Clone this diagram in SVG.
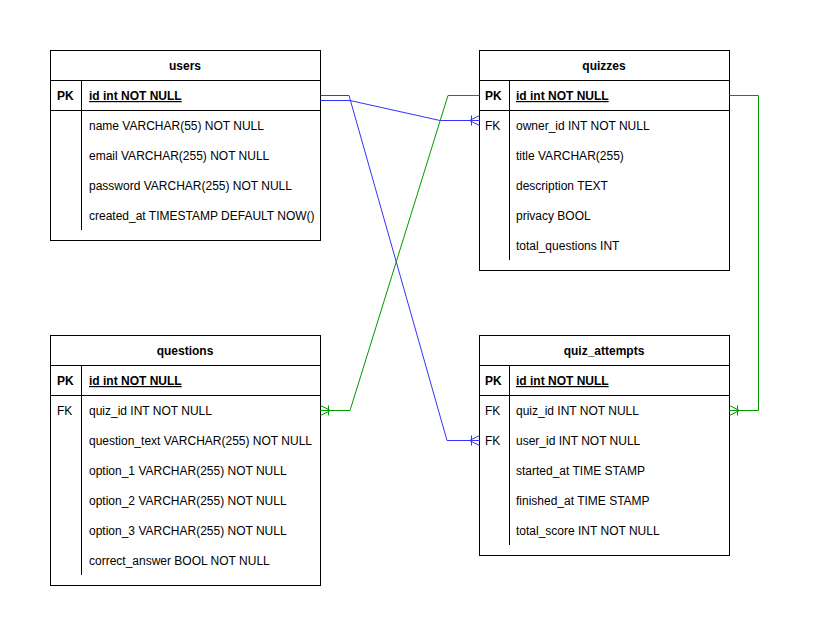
<svg xmlns="http://www.w3.org/2000/svg" width="817" height="636" viewBox="0 0 817 636">
<style>
.box{fill:#fff;stroke:#000;stroke-width:1}
.ln{stroke:#000;stroke-width:1;fill:none}
text{font-family:"Liberation Sans",Arial,sans-serif;font-size:12px;fill:#000}
.t{font-weight:bold;text-anchor:middle}
.k{font-weight:bold}
.pk{font-weight:bold;text-decoration:underline}
.blue{stroke:#3333FF;stroke-width:1;fill:none}
.green{stroke:#009900;stroke-width:1;fill:none}
</style>
<defs>
<marker id="cfB" markerUnits="userSpaceOnUse" viewBox="-12 -6 13 12" refX="0" refY="0" markerWidth="13" markerHeight="12" orient="auto">
<path d="M-10,0 L0,-5 M-10,0 L0,0 M-10,0 L0,5 M-8,-5 L-8,5" stroke="#3333FF" stroke-width="1" fill="none"/>
</marker>
<marker id="cfG" markerUnits="userSpaceOnUse" viewBox="-12 -6 13 12" refX="0" refY="0" markerWidth="13" markerHeight="12" orient="auto">
<path d="M-10,0 L0,-5 M-10,0 L0,0 M-10,0 L0,5 M-8,-5 L-8,5" stroke="#009900" stroke-width="1" fill="none"/>
</marker>
</defs>
<rect width="817" height="636" fill="#fff"/>

<g id="users">
<rect class="box" x="50.5" y="50.5" width="270" height="190"/>
<path class="ln" d="M50.5,80.5H320.5M50.5,110.5H320.5M81.5,80.5V230"/>
<text class="t" x="185" y="70">users</text>
<text class="k" x="57" y="100">PK</text>
<text class="pk" x="89" y="100">id int NOT NULL</text>
<text x="89" y="130">name VARCHAR(55) NOT NULL</text>
<text x="89" y="160">email VARCHAR(255) NOT NULL</text>
<text x="89" y="190">password VARCHAR(255) NOT NULL</text>
<text x="89" y="220">created_at TIMESTAMP DEFAULT NOW()</text>
</g>

<g id="quizzes">
<rect class="box" x="479.5" y="50.5" width="250" height="220"/>
<path class="ln" d="M479.5,80.5H729.5M479.5,110.5H729.5M509.5,80.5V260"/>
<text class="t" x="604" y="70">quizzes</text>
<text class="k" x="485" y="100">PK</text>
<text class="pk" x="516" y="100">id int NOT NULL</text>
<text x="485" y="130">FK</text>
<text x="516" y="130">owner_id INT NOT NULL</text>
<text x="516" y="160">title VARCHAR(255)</text>
<text x="516" y="190">description TEXT</text>
<text x="516" y="220">privacy BOOL</text>
<text x="516" y="250">total_questions INT</text>
</g>

<g id="questions">
<rect class="box" x="50.5" y="335.5" width="270" height="250"/>
<path class="ln" d="M50.5,365.5H320.5M50.5,395.5H320.5M81.5,365.5V575"/>
<text class="t" x="185" y="355">questions</text>
<text class="k" x="57" y="385">PK</text>
<text class="pk" x="89" y="385">id int NOT NULL</text>
<text x="57" y="415">FK</text>
<text x="89" y="415">quiz_id INT NOT NULL</text>
<text x="89" y="445">question_text VARCHAR(255) NOT NULL</text>
<text x="89" y="475">option_1 VARCHAR(255) NOT NULL</text>
<text x="89" y="505">option_2 VARCHAR(255) NOT NULL</text>
<text x="89" y="535">option_3 VARCHAR(255) NOT NULL</text>
<text x="89" y="565">correct_answer BOOL NOT NULL</text>
</g>

<g id="quiz_attempts">
<rect class="box" x="479.5" y="335.5" width="250" height="220"/>
<path class="ln" d="M479.5,365.5H729.5M479.5,395.5H729.5M509.5,365.5V545"/>
<text class="t" x="604" y="355">quiz_attempts</text>
<text class="k" x="485" y="385">PK</text>
<text class="pk" x="516" y="385">id int NOT NULL</text>
<text x="485" y="415">FK</text>
<text x="516" y="415">quiz_id INT NOT NULL</text>
<text x="485" y="445">FK</text>
<text x="516" y="445">user_id INT NOT NULL</text>
<text x="516" y="475">started_at TIME STAMP</text>
<text x="516" y="505">finished_at TIME STAMP</text>
<text x="516" y="535">total_score INT NOT NULL</text>
</g>

<g id="connectors">
<path class="blue" d="M320.5,100.5H350L440,120.5H479.5" marker-end="url(#cfB)"/>
<path class="blue" d="M320.5,95.5H349L447,440.5H479.5" marker-end="url(#cfB)"/>
<path class="green" d="M479.5,95.5H448L350,410.5H320.5" marker-end="url(#cfG)"/>
<path class="green" d="M729.5,95.5H758.5V410.5H729.5" marker-end="url(#cfG)"/>
</g>
</svg>
